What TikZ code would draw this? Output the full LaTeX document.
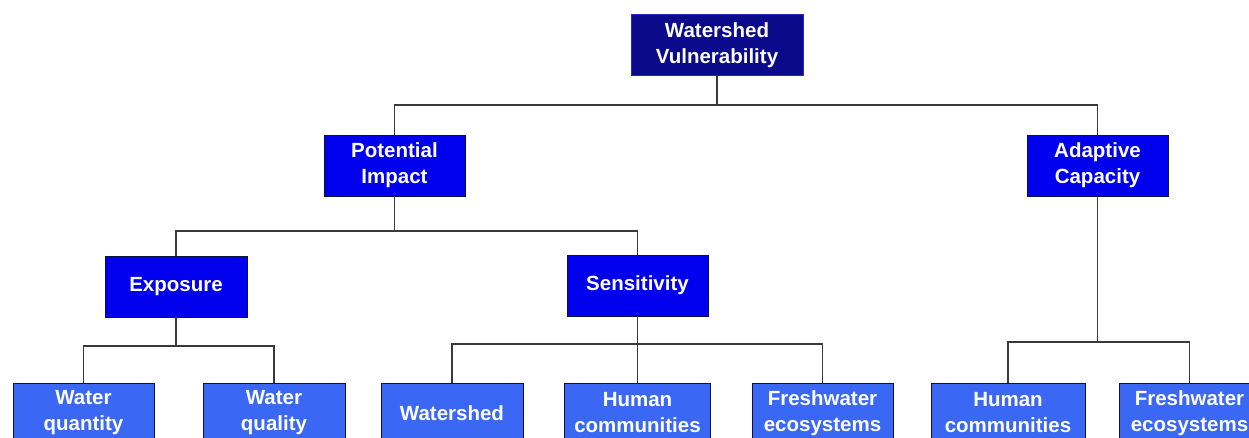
\documentclass[tikz,border=0pt]{standalone}
\usepackage{fontspec}
\setmainfont{Liberation Sans}
\definecolor{navyfill}{HTML}{0A0A8A}
\definecolor{navyedge}{HTML}{2828C8}
\definecolor{midfill}{HTML}{0000EE}
\definecolor{lowfill}{HTML}{3A68F4}
\definecolor{boxedge}{HTML}{101040}
\definecolor{linecol}{HTML}{3A3A3A}
\begin{document}
\begin{tikzpicture}[x=1pt,y=1pt,
  box/.style={rectangle, draw=boxedge, line width=0.8pt, text=white,
    font=\fontsize{20.5}{26}\selectfont\bfseries, align=center,
    inner sep=0pt, minimum height=61pt},
  topbox/.style={box, fill=navyfill, draw=navyedge},
  midbox/.style={box, fill=midfill},
  lowbox/.style={box, fill=lowfill, minimum height=60pt},
  conn/.style={draw=linecol, line width=1.6pt}
]
\useasboundingbox (0,0) rectangle (1249,-437);
\fill[white] (0,0) rectangle (1249,-437);
\begin{scope}
\clip (0,0) rectangle (1249,-437);
% nodes
\node[topbox, minimum width=172pt] (top) at (717,-45) {Watershed\\Vulnerability};
\node[midbox, minimum width=141pt] (pi) at (394.5,-165.5) {Potential\\Impact};
\node[midbox, minimum width=141pt] (ac) at (1097.5,-165.5) {Adaptive\\Capacity};
\node[midbox, minimum width=142pt] (ex) at (176,-286.5) {Exposure};
\node[midbox, minimum width=141pt] (se) at (637.5,-285.5) {Sensitivity};
\node[lowbox, minimum width=141pt] (wqn) at (83.5,-413) {Water\\quantity};
\node[lowbox, minimum width=142pt] (wql) at (274,-413) {Water\\quality};
\node[lowbox, minimum width=142pt] (ws) at (452,-413) {Watershed};
\node[lowbox, minimum width=146pt] (hc1) at (637.5,-413) {Human\\communities};
\node[lowbox, minimum width=141pt] (fe1) at (822.5,-413) {Freshwater\\ecosystems};
\node[lowbox, minimum width=154pt] (hc2) at (1008,-413) {Human\\communities};
\node[lowbox, minimum width=141pt] (fe2) at (1189.5,-413) {Freshwater\\ecosystems};
% bar levels
\coordinate (b0) at (0,-105);
\coordinate (b1) at (0,-231);
\coordinate (b2) at (0,-346);
\coordinate (b3) at (0,-344);
\coordinate (b4) at (0,-342);
% connectors
\path[conn] (top.south) -- (top.south |- b0) -| (pi.north);
\path[conn] (top.south |- b0) -| (ac.north);
\path[conn] (pi.south) -- (pi.south |- b1) -| (ex.north);
\path[conn] (pi.south |- b1) -| (se.north);
\path[conn] (ex.south) -- (ex.south |- b2) -| (wqn.north);
\path[conn] (ex.south |- b2) -| (wql.north);
\path[conn] (se.south) -- (se.south |- b3) -| (ws.north);
\path[conn] (se.south |- b3) -| (fe1.north);
\path[conn] (se.south) -- (hc1.north);
\path[conn] (ac.south) -- (ac.south |- b4) -| (hc2.north);
\path[conn] (ac.south |- b4) -| (fe2.north);
\end{scope}
\end{tikzpicture}
\end{document}
